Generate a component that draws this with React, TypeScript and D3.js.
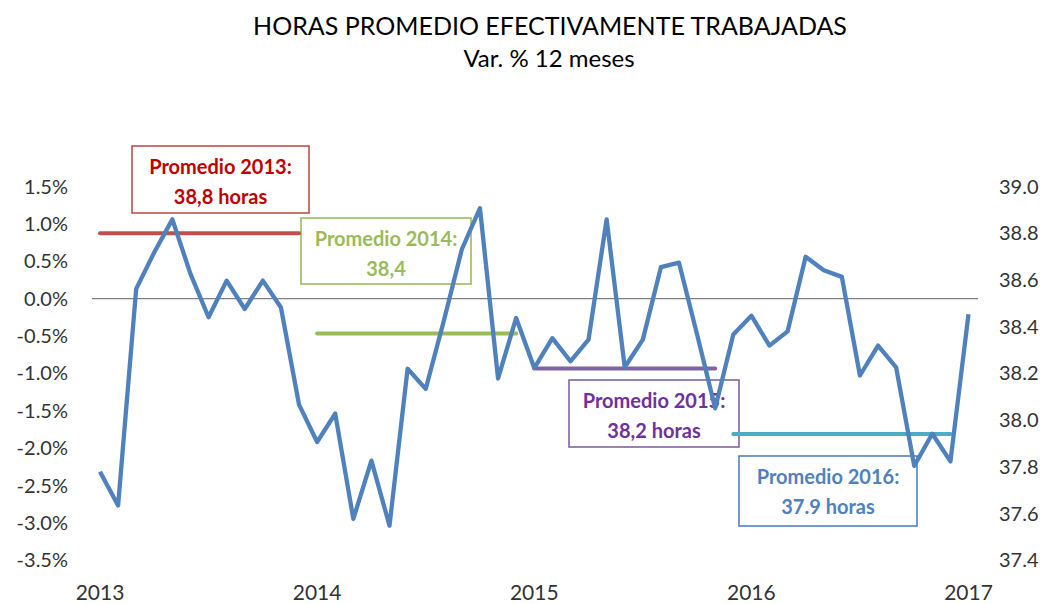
import React from 'react'
import * as d3 from 'd3'

// Var. % 12 meses, monthly Jan 2013 .. Jan 2017
const months = d3.range(49)
const varPct = [
  -2.32, -2.77, 0.13, 0.62, 1.06, 0.33, -0.25, 0.24, -0.14, 0.24, -0.12, -1.42,
  -1.92, -1.54, -2.95, -2.17, -3.04, -0.94, -1.21, -0.3, 0.66, 1.21, -1.07, -0.26,
  -0.93, -0.53, -0.84, -0.55, 1.06, -0.92, -0.55, 0.42, 0.48, -0.48, -1.47, -0.48,
  -0.23, -0.63, -0.44, 0.56, 0.38, 0.29, -1.03, -0.63, -0.92, -2.24, -1.81, -2.18,
  -0.21
]
const yearLabels = ['2013', '2014', '2015', '2016', '2017']
const yearIdx = [0, 12, 24, 36, 48]
const leftTicks = [1.5, 1.0, 0.5, 0.0, -0.5, -1.0, -1.5, -2.0, -2.5, -3.0, -3.5]
const rightTicks = [39.0, 38.8, 38.6, 38.4, 38.2, 38.0, 37.8, 37.6, 37.4]

// yearly averages (hours, right axis)
const avgYears = ['2013', '2014', '2015', '2016']
const avgHours = [38.8, 38.37, 38.22, 37.94]
const avgFrom = [0, 12, 24, 35]
const avgTo = [11, 23, 34, 47]
const avgLine1 = ['Promedio 2013:', 'Promedio 2014:', 'Promedio 2015:', 'Promedio 2016:']
const avgLine2 = ['38,8 horas', '38,4', '38,2 horas', '37.9 horas']

const lineColors = ['#C0504D', '#9BBB59', '#8064A2', '#4BACC6']
const boxColors = ['#C0504D', '#9BBB59', '#8064A2', '#4F81BD']
const textColors = ['#C00000', '#9BBB59', '#7030A0', '#4F81BD']
// box placement [x, y, w, h]
const boxes = [
  [132, 146, 177, 67],
  [301, 218, 170, 66],
  [569, 380, 170, 67],
  [739, 456, 178, 70]
]

const FONT = 'Lato, "Open Sans", sans-serif'

export default function App() {
  const width = 1046
  const height = 604
  const x = d3.scaleLinear().domain([0, 48]).range([100, 968.5])
  const yL = d3.scaleLinear().domain([-3.5, 1.5]).range([560, 186.5])
  const yR = d3.scaleLinear().domain([37.4, 39.0]).range([560, 186.5])

  const line = d3.line<number>()
    .x((d, i) => x(months[i]))
    .y(d => yL(d))

  return (
    <svg width={width} height={height} style={{ position: 'absolute', left: 0, top: 0, fontFamily: FONT }}>
      <rect width={width} height={height} fill="#fff" />
      <text x={550} y={35} textAnchor="middle" fontSize={25} fill="#000">HORAS PROMEDIO EFECTIVAMENTE TRABAJADAS</text>
      <text x={549} y={67} textAnchor="middle" fontSize={24} fill="#000">Var. % 12 meses</text>

      {leftTicks.map(t => (
        <text key={'l' + t} x={68} y={yL(t)} dy="0.36em" textAnchor="end" fontSize={20} fill="#333">
          {t.toFixed(1) + '%'}
        </text>
      ))}
      {rightTicks.map(t => (
        <text key={'r' + t} x={999} y={yR(t)} dy="0.36em" textAnchor="start" fontSize={20} fill="#333">
          {t.toFixed(1)}
        </text>
      ))}
      {yearLabels.map((lab, i) => (
        <text key={lab} x={x(yearIdx[i])} y={600} textAnchor="middle" fontSize={21} fill="#333">{lab}</text>
      ))}

      <line x1={92} x2={978} y1={yL(0)} y2={yL(0)} stroke="#808080" strokeWidth={1.3} />

      {avgYears.map((yr, i) => (
        <g key={'box' + yr}>
          <rect x={boxes[i][0]} y={boxes[i][1]} width={boxes[i][2]} height={boxes[i][3]}
            fill="#fff" stroke={boxColors[i]} strokeWidth={1.6} />
          <text x={boxes[i][0] + boxes[i][2] / 2} y={boxes[i][1] + 28} textAnchor="middle"
            fontSize={20} fontWeight="bold" fill={textColors[i]}>{avgLine1[i]}</text>
          <text x={boxes[i][0] + boxes[i][2] / 2} y={boxes[i][1] + 58} textAnchor="middle"
            fontSize={20} fontWeight="bold" fill={textColors[i]}>{avgLine2[i]}</text>
        </g>
      ))}

      {avgYears.map((yr, i) => (
        <line key={'avg' + yr} x1={x(avgFrom[i])} x2={x(avgTo[i])} y1={yR(avgHours[i])} y2={yR(avgHours[i])}
          stroke={lineColors[i]} strokeWidth={4} strokeLinecap="round" />
      ))}

      <path d={line(varPct) || ''} fill="none" stroke="#4F81BD" strokeWidth={4.3} strokeLinejoin="round" />
    </svg>
  )
}
